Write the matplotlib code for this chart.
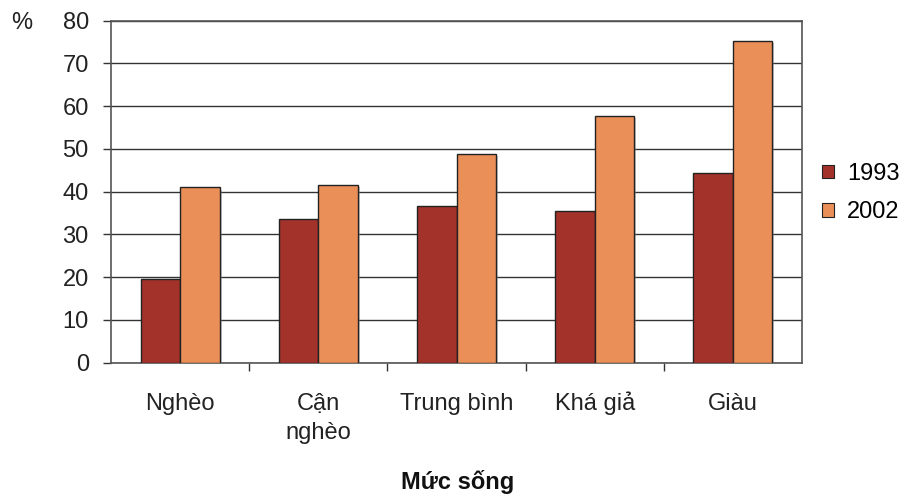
import matplotlib
matplotlib.use("Agg")
import matplotlib.pyplot as plt
import matplotlib.patheffects as pe
import matplotlib.transforms as mtransforms
import numpy as np

categories = ["Nghèo", "Cận\nnghèo", "Trung bình", "Khá giả", "Giàu"]
years = ["1993", "2002"]
values_1993 = [19.6, 33.7, 36.7, 35.6, 44.4]
values_2002 = [41.0, 41.5, 48.8, 57.7, 75.2]
y_ticks = [0, 10, 20, 30, 40, 50, 60, 70, 80]

colors = ["#A3322A", "#EA8F58"]

plt.rcParams["font.family"] = ["Liberation Sans", "DejaVu Sans"]
FS = 17
W, H = 904, 494

fig = plt.figure(figsize=(W / 100, H / 100), dpi=100)
ax = fig.add_axes([111 / W, 1 - 362.7 / H, (802 - 111) / W, (362.7 - 20.7) / H])

n = len(categories)
x = np.arange(n) + 0.5
w = 1 / 3.5
shadow = [pe.SimplePatchShadow(offset=(1.5, -1.5), shadow_rgbFace="#888888", alpha=0.45), pe.Normal()]
for i, (vals, c, lab) in enumerate(zip([values_1993, values_2002], colors, years)):
    bars = ax.bar(x + (i - 0.5) * w, vals, width=w, color=c, edgecolor="#222222",
                  linewidth=1.0, label=lab, zorder=3)
    for b in bars:
        b.set_path_effects(shadow)

ax.set_xlim(0, n)
ax.set_ylim(0, 80)
ax.set_yticks(y_ticks)
ax.set_yticklabels([str(t) for t in y_ticks], fontsize=FS, color="#222222")
ax.yaxis.grid(True, color="#333333", linewidth=1.0, zorder=0)
ax.set_axisbelow(True)

# category labels, each line placed on a common baseline
ax.set_xticks([])
ax.set_xticks([1, 2, 3, 4], minor=True)
ax.tick_params(axis="x", which="minor", length=6, width=1.0, color="#333333", direction="out")
ax.tick_params(axis="y", length=6, width=1.0, color="#333333", direction="out", pad=10)
trans = mtransforms.blended_transform_factory(ax.transData, fig.transFigure)
for xi, cat in zip(x, categories):
    for k, line in enumerate(cat.split("\n")):
        ax.text(xi, 1 - (410 + 29 * k) / H, line, transform=trans, fontsize=FS,
                ha="center", va="baseline", color="#222222")

for s in ax.spines.values():
    s.set_color("#555555")
    s.set_linewidth(1.2)

fig.text(458 / W, 1 - 489 / H, "Mức sống", fontsize=FS, fontweight="bold",
         ha="center", va="baseline", color="#111111")
fig.text(22 / W, 1 - 23 / H, "%", fontsize=FS, ha="center", va="center", color="#222222")

leg = fig.legend(loc="center left", bbox_to_anchor=(822 / W, 1 - 193 / H),
                 frameon=False, fontsize=FS, handlelength=0.5, handleheight=0.5,
                 handletextpad=0.55, labelspacing=0.7, borderpad=0, borderaxespad=0)
for h in leg.legend_handles:
    h.set_path_effects([])
    h.set_linewidth(0.8)

fig.savefig("out.png", dpi=100)
